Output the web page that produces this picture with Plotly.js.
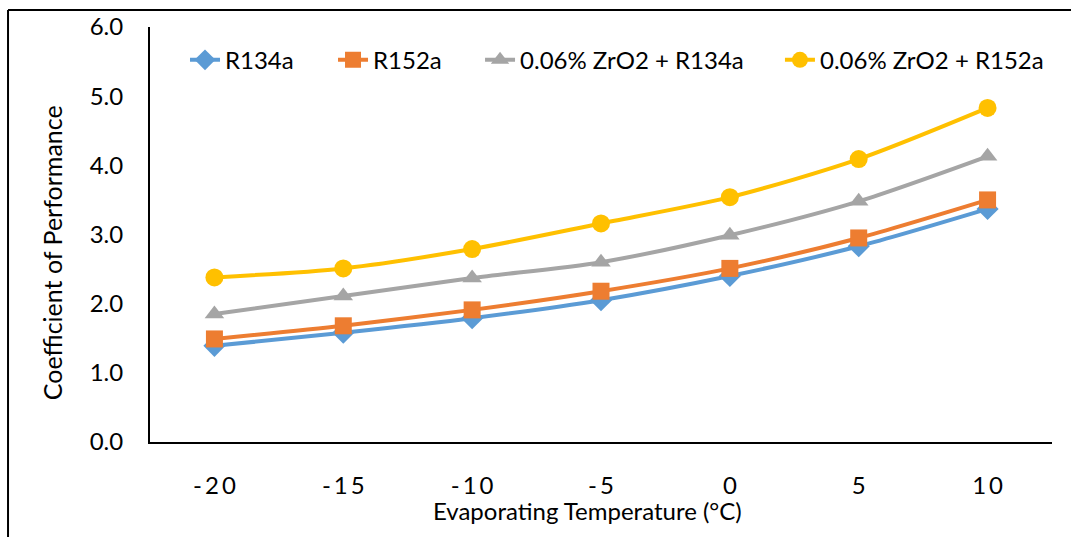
<!DOCTYPE html>
<html>
<head>
<meta charset="utf-8">
<script src="https://cdn.plot.ly/plotly-3.0.1.min.js"></script>
<style>html,body{margin:0;padding:0;background:#fff;}#chart{width:1071px;height:537px;}</style>
</head>
<body>
<div id="chart"></div>
<script>
const temperatures = [-20, -15, -10, -5, 0, 5, 10];
const copR134a = [1.39, 1.58, 1.79, 2.05, 2.40, 2.83, 3.37];
const copR152a = [1.49, 1.68, 1.91, 2.18, 2.51, 2.95, 3.50];
const copZrO2R134a = [1.85, 2.11, 2.37, 2.60, 2.99, 3.48, 4.13];
const copZrO2R152a = [2.38, 2.51, 2.79, 3.16, 3.54, 4.09, 4.83];
const seriesNames = ["R134a", "R152a", "0.06% ZrO2 + R134a", "0.06% ZrO2 + R152a"];
const yTicks = [0, 1, 2, 3, 4, 5, 6];
const xTitle = "Evaporating Temperature (°C)";
const yTitle = "Coefficient of Performance";

const FONT = "Lato, 'Open Sans', sans-serif";
const FS = 24;
const xCats = temperatures.map(String);
const xTickText = temperatures.map(t => String(t).split("").join("\u2009"));
const legendX = [0.0388, 0.2029, 0.3659, 0.6984];

function mk(i, y, color, symbol, size) {
  return {
    type: "scatter", mode: "lines+markers", name: seriesNames[i],
    legend: i === 0 ? "legend" : "legend" + (i + 1),
    x: xCats, y: y,
    line: {color: color, width: 4, shape: "spline", smoothing: 0.8},
    marker: {color: color, symbol: symbol, size: size}
  };
}
const data = [
  mk(0, copR134a, "#5B9BD5", "diamond", 17),
  mk(1, copR152a, "#ED7D31", "square", 17),
  mk(2, copZrO2R134a, "#A5A5A5", "triangle-up", 17),
  mk(3, copZrO2R152a, "#FFC000", "circle", 18)
];

function leg(x) {
  return {orientation: "h", x: x, y: 0.92, xanchor: "left", yanchor: "middle",
          font: {family: FONT, size: FS, color: "#000"}, bgcolor: "rgba(0,0,0,0)"};
}

const layout = {
  width: 1071, height: 537,
  margin: {l: 150, r: 19, t: 27, b: 95},
  paper_bgcolor: "#fff", plot_bgcolor: "#fff",
  font: {family: FONT, size: FS, color: "#000"},
  showlegend: true,
  legend: leg(legendX[0]),
  legend2: leg(legendX[1]),
  legend3: leg(legendX[2]),
  legend4: leg(legendX[3]),
  xaxis: {
    type: "category", categoryorder: "array", categoryarray: xCats,
    range: [-0.5, 6.5],
    tickvals: xCats, ticktext: xTickText,
    showgrid: false, zeroline: false,
    showline: true, linecolor: "#000", linewidth: 2,
    ticks: "outside", ticklen: 21, tickcolor: "rgba(0,0,0,0)",
    tickfont: {family: FONT, size: FS, color: "#000"}
  },
  yaxis: {
    range: [0, 6], tickvals: yTicks, ticktext: yTicks.map(v => v.toFixed(1)),
    showgrid: false, zeroline: false,
    showline: true, linecolor: "#000", linewidth: 2,
    ticks: "outside", ticklen: 20, tickcolor: "rgba(0,0,0,0)",
    tickfont: {family: FONT, size: FS, color: "#000"}
  },
  annotations: [
    {text: xTitle, xref: "paper", yref: "paper", x: 0.4845, y: -0.1639,
     xanchor: "center", yanchor: "middle", showarrow: false,
     font: {family: FONT, size: FS, color: "#000"}},
    {text: yTitle, xref: "paper", yref: "paper", x: -0.1086, y: 0.455, textangle: -90,
     xanchor: "center", yanchor: "middle", showarrow: false,
     font: {family: FONT, size: 25, color: "#000"}}
  ],
  shapes: [
    {type: "line", xref: "paper", yref: "paper", x0: -0.1574, x1: 1.03, y0: 1.041, y1: 1.041,
     line: {color: "#000", width: 2}},
    {type: "line", xref: "paper", yref: "paper", x0: -0.1574, x1: -0.1574, y0: 1.041, y1: -0.25,
     line: {color: "#000", width: 2}}
  ]
};
Plotly.newPlot("chart", data, layout, {displayModeBar: false, staticPlot: true});
</script>
</body>
</html>
